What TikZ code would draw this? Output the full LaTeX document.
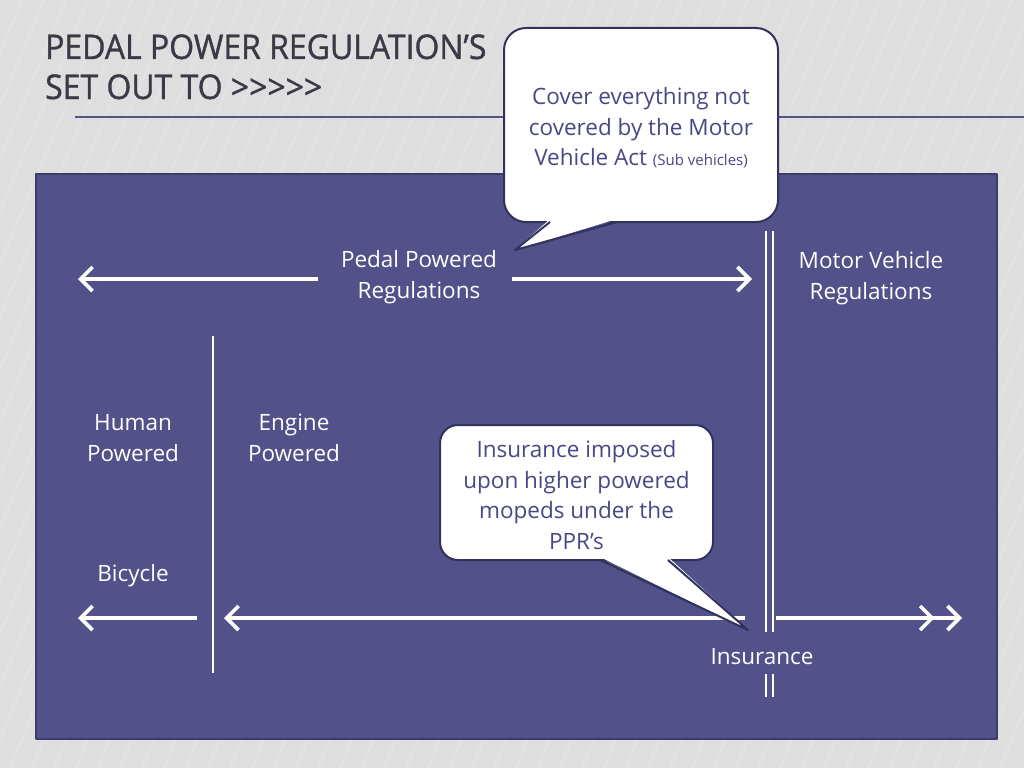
\documentclass[tikz,border=0pt]{standalone}
\usepackage{fontspec}
\setmainfont{Open Sans}
\usepackage{xcolor}
\definecolor{slide-bg}{HTML}{DEDEDE}
\definecolor{slide-stripe}{HTML}{F4F4F4}
\definecolor{slide-rule}{HTML}{55548A}
\definecolor{panel-main}{HTML}{525189}
\definecolor{panel-edge}{HTML}{3D3B6B}
\definecolor{title-ink}{HTML}{3A3A47}
\definecolor{callout-ink}{HTML}{4A4884}
\definecolor{callout-edge}{HTML}{33325C}
\usepackage{tikz}
\usetikzlibrary{arrows.meta}

\newcommand{\gtsign}{>\kern0pt}

\tikzset{
    panel text/.style={text=white, align=center, inner sep=0pt,
        font=\fontsize{22.5}{30.5}\selectfont},
    title text/.style={text=title-ink, inner sep=0pt,
        font=\fontsize{34}{41}\selectfont\addfontfeature{FakeBold=1.1}},
    callout/.style={draw=callout-edge, line width=2pt, fill=white,
        rounded corners=22pt, inner sep=0pt},
    callout text/.style={text=callout-ink, align=center, inner sep=0pt,
        font=\fontsize{22.5}{30.5}\selectfont},
    white line/.style={draw=white, line width=3.6pt},
    white arrow/.style={white line, -{Straight Barb[length=12pt,width=24pt]}},
    double arrow/.style={white line,
        -{Straight Barb[length=12pt,width=24pt,sep=11pt]Straight Barb[length=12pt,width=24pt]}},
}

\begin{document}
\begin{tikzpicture}[x=1pt, y=-1pt, line join=round]

    \useasboundingbox (0,0) rectangle (1024,768);

    % Background
    \fill[slide-bg] (0,0) rectangle (1024,768);
    \begin{scope}
        \clip (0,0) rectangle (1024,768);
        \foreach \k in {0,...,60}
            \draw[slide-stripe, opacity=.2, line width=2.5pt] (\k*22-320,768) -- (\k*22,0);
    \end{scope}
    \draw[slide-rule, line width=1.2pt] (75,117) -- (1024,117);

    % Title
    \node[title text, anchor=base west] (title-top) at (45,59)
        {\scalebox{0.94}[1]{PEDAL POWER REGULATION’S}};
    \node[title text, anchor=base west] (title-bottom) at (45,99)
        {\scalebox{0.94}[1]{SET OUT TO \gtsign\gtsign\gtsign\gtsign\gtsign}};

    % Panel
    \fill[panel-main, draw=panel-edge, line width=1.5pt] (36,174) rectangle (997,739);

    % Labels
    \node[panel text] (ppr) at (419,277) {Pedal Powered\\Regulations};
    \node[panel text] (mvr) at (871,278) {Motor Vehicle\\Regulations};
    \node[panel text] (human) at (133,438) {Human\\Powered};
    \node[panel text] (engine) at (294,438) {Engine\\Powered};
    \node[panel text] (bicycle) at (133,576) {Bicycle};
    \node[panel text] (insurance) at (762,657) {Insurance};

    % Arrow ends
    \coordinate (ppr-left) at (318,279);
    \coordinate (ppr-west) at (78,279);
    \coordinate (ppr-right) at (512,279);
    \coordinate (ppr-east) at (752,279);
    \coordinate (bike-start) at (197,618);
    \coordinate (bike-west) at (78,618);
    \coordinate (engine-start) at (745,618);
    \coordinate (engine-west) at (224,618);
    \coordinate (motor-start) at (776,618);
    \coordinate (motor-east) at (962,618);

    % Arrows
    \draw[white arrow] (ppr-left) -- (ppr-west);
    \draw[white arrow] (ppr-right) -- (ppr-east);
    \draw[white arrow] (bike-start) -- (bike-west);
    \draw[white arrow] (engine-start) -- (engine-west);
    \draw[double arrow] (motor-start) -- (motor-east);

    % Dividers
    \draw[white, line width=1.3pt] (213,336) -- (213,673);
    \draw[white, line width=2.5pt] (766,231) -- (766,632);
    \draw[white, line width=2.5pt] (773,231) -- (773,632);
    \draw[white, line width=2.5pt] (766,674) -- (766,697);
    \draw[white, line width=2.5pt] (773,674) -- (773,697);

    % Callout: top
    \node[callout, minimum width=274pt, minimum height=194pt] (cover) at (641,125) {};
    \fill[white] (550,219) -- (515,250) -- (617,219) -- cycle;
    \draw[callout-edge, line width=2pt] (550,222) -- (515,250) -- (617,222);
    \node[callout text] (cover-text) at (641,128)
        {Cover everything not\\covered by the Motor\\Vehicle Act {\fontsize{15}{18}\selectfont(Sub vehicles)}};

    % Callout: insurance
    \node[callout, rounded corners=18pt, minimum width=273pt, minimum height=135pt] (ppr-note) at (576.5,492.5) {};
    \fill[white] (600,557) -- (748,630) -- (668,557) -- cycle;
    \draw[callout-edge, line width=2pt] (600,560) -- (748,630) -- (668,560);
    \node[callout text] (ppr-note-text) at (576.5,495)
        {Insurance imposed\\upon higher powered\\mopeds under the\\PPR’s};

\end{tikzpicture}
\end{document}
